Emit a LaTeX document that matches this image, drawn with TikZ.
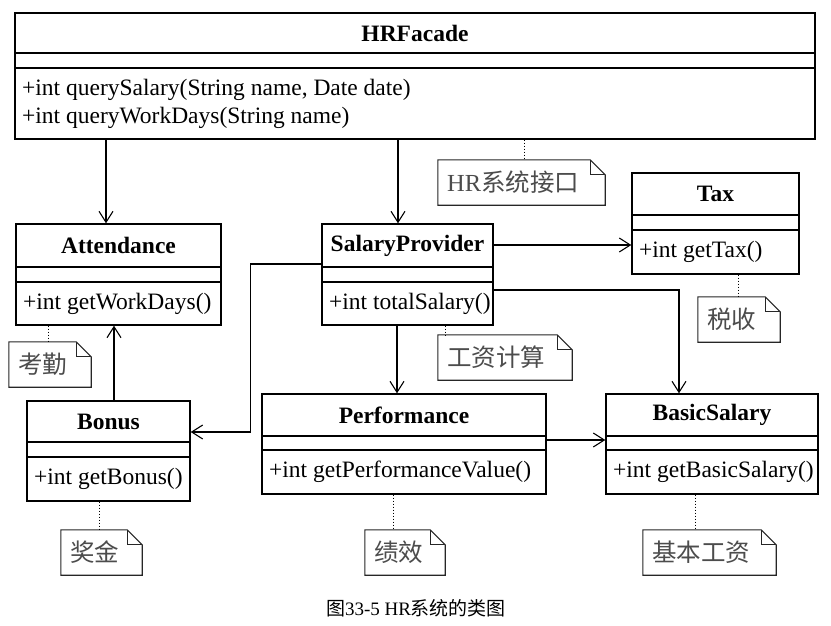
\documentclass[tikz,border=0pt]{standalone}
\usepackage{fontspec}
\setmainfont{Liberation Serif}
\newfontfamily\cjk{Noto Sans CJK SC}
\usetikzlibrary{arrows.meta}
\newcommand{\umlclass}[9]{%
  \node[classbox, minimum width={(#4-#2)*1pt}, minimum height={(#5-#3)*1pt}] (#1) at ({(#2+#4)/2},{(#3+#5)/2}) {};
  \draw[classline] (#1.west |- 0,#6) -- (#1.east |- 0,#6);
  \draw[classline] (#1.west |- 0,#7) -- (#1.east |- 0,#7);
  \node[titletext] (#1-t) at ({(#2+#4)/2},{(#3+#6)/2}) {#8};
  \node[methodtext] (#1-m) at ({#2+7},{(#7+#5)/2}) {#9};
}
\newcommand{\umlnote}[6]{%
  \node[notebox, minimum width={(#4-#2)*1pt}, minimum height={(#5-#3)*1pt}] (#1) at ({(#2+#4)/2},{(#3+#5)/2}) {};
  \draw[noteline] (#1.south west) -- (#1.north west) -- ([xshift=-15pt]#1.north east) -- ([yshift=-15pt]#1.north east) -- (#1.south east) -- cycle;
  \draw[noteline] ([xshift=-15pt]#1.north east) -- ([xshift=-15pt,yshift=-15pt]#1.north east) -- ([yshift=-15pt]#1.north east);
  \node[notetext] (#1-t) at ({#2+9},{(#3+#5)/2}) {#6};
}
\begin{document}
\begin{tikzpicture}[x=1pt,y=-1pt,
  classbox/.style={draw, line width=1.4pt, inner sep=0pt, fill=white},
  classline/.style={line width=1.4pt},
  titletext/.style={font=\fontsize{23.5}{28}\selectfont\bfseries, inner sep=0pt},
  methodtext/.style={font=\fontsize{23.5}{28}\selectfont, anchor=west, align=left, inner sep=0pt},
  notebox/.style={inner sep=0pt},
  noteline/.style={line width=1.1pt, draw=black!85},
  notetext/.style={font=\fontsize{24.5}{28}\selectfont\cjk, text=black!70, anchor=west, inner sep=0pt},
  assoc/.style={line width=1.1pt, -{Straight Barb[length=11pt,width=14pt,line width=1.1pt]}},
  anchorline/.style={line width=1pt, dotted}
]
\useasboundingbox[fill=white] (0,0) rectangle (831,626);

% classes
\umlclass{hr}{15}{13}{815}{139}{53}{68}{HRFacade}{+int querySalary(String name, Date date)\\+int queryWorkDays(String name)}
\umlclass{att}{16}{224}{221}{325}{267}{282}{Attendance}{+int getWorkDays()}
\umlclass{sp}{322}{224}{493}{325}{267}{282}{SalaryProvider}{+int totalSalary()}
\umlclass{tax}{632}{173}{799}{274}{215}{230}{Tax}{+int getTax()}
\umlclass{bon}{27}{401}{190}{501}{442}{457}{Bonus}{+int getBonus()}
\umlclass{perf}{262}{394}{546}{494}{436}{450}{Performance}{+int getPerformanceValue()}
\umlclass{bs}{606}{394}{818}{494}{436}{450}{BasicSalary}{+int getBasicSalary()}

% notes
\umlnote{nhr}{438}{160}{605}{205}{{\rmfamily HR}系统接口}
\umlnote{nsp}{438}{335}{572}{380}{工资计算}
\umlnote{ntax}{698}{297}{780}{342}{税收}
\umlnote{natt}{9}{342}{91}{387}{考勤}
\umlnote{nbon}{61}{530}{142}{575}{奖金}
\umlnote{nperf}{365}{530}{445}{575}{绩效}
\umlnote{nbs}{643}{530}{776}{575}{基本工资}

% associations
\draw[assoc] (hr.south -| 106,0) -- (att.north -| 106,0);
\draw[assoc] (hr.south -| 398,0) -- (sp.north -| 398,0);
\draw[assoc] (sp.east |- 0,245) -- (tax.west |- 0,245);
\draw[assoc] (sp.east |- 0,290) -| (bs.north -| 679,0);
\draw[assoc] (sp.west |- 0,264) -| ([xshift=60pt]bon.east |- 0,432) -- (bon.east |- 0,432);
\draw[assoc] (sp.south -| 397,0) -- (perf.north -| 397,0);
\draw[assoc] (perf.east |- 0,440) -- (bs.west |- 0,440);
\draw[assoc] (bon.north -| 114,0) -- (att.south -| 114,0);

% note anchors
\draw[anchorline] (hr.south -| 524,0) -- (nhr.north -| 524,0);
\draw[anchorline] (sp.south -| 445,0) -- (nsp.north -| 445,0);
\draw[anchorline] (tax.south -| 738,0) -- (ntax.north -| 738,0);
\draw[anchorline] (att.south -| 48,0) -- (natt.north -| 48,0);
\draw[anchorline] (bon.south -| 99,0) -- (nbon.north -| 99,0);
\draw[anchorline] (perf.south -| 393,0) -- (nperf.north -| 393,0);
\draw[anchorline] (bs.south -| 695,0) -- (nbs.north -| 695,0);

% caption
\node[font=\fontsize{19}{22}\selectfont, inner sep=0pt] (cap) at (416,608) {{\cjk 图}33-5 HR{\cjk 系统的类图}};
\end{tikzpicture}
\end{document}
